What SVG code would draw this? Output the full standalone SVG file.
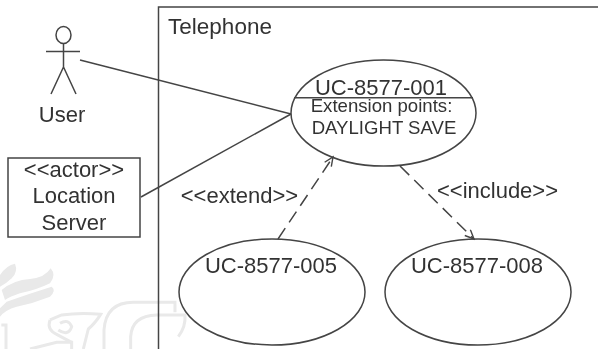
<svg xmlns="http://www.w3.org/2000/svg" width="598" height="349" viewBox="0 0 598 349">
<defs>
<style>
text{font-family:"Liberation Sans",Arial,sans-serif;fill:#333;text-anchor:middle}
.l{font-size:22px}
.s{font-size:18.600px}
.ln{fill:none;stroke:#444;stroke-width:1.5}
.d{stroke-dasharray:13 7}
.wm{fill:none;stroke:#e9e9e9;stroke-width:9}
.wf{fill:#e9e9e9}
</style>
<marker id="arr" markerWidth="12" markerHeight="12" refX="10" refY="5" orient="auto" markerUnits="userSpaceOnUse">
<path d="M1 1L10 5L1 9" fill="none" stroke="#444" stroke-width="1.4"/>
</marker>
<filter id="soft" x="-5%" y="-5%" width="110%" height="110%"><feGaussianBlur stdDeviation="0.4"/></filter>
</defs>
<rect width="598" height="349" fill="#fff"/>
<g filter="url(#soft)">
<g id="watermark" transform="translate(0 255) scale(.3333)">
<path class="wf" d="M0 60Q20 30 45 26Q55 50 35 70Q20 85 0 95Z"/>
<path class="wf" d="M5 105Q40 75 90 72Q135 68 152 40Q170 60 150 85Q110 105 60 115Q30 125 15 135Z"/>
<path class="wf" d="M20 140Q90 115 155 95Q170 105 150 125Q100 145 50 155Q15 165 0 185V160Z"/>
<path class="wm" d="M4 210H18V282"/>
<path class="wm" d="M150 195L185 180Q240 172 302 178Q285 205 265 222L250 282M150 195Q140 225 170 238L215 262M180 205Q205 190 215 215Q205 245 175 225"/>
<path class="wm" d="M90 282L170 262H215V282"/>
<path class="wm" d="M312 282V225Q318 142 400 142H525V172"/>
<path class="wm" d="M392 282V245Q396 182 470 180H555Q558 215 535 245"/>
</g>
<g id="boundary">
<path class="ln" d="M158.500 349V7H598"/>
<text x="220" y="34" font-size="22.500">Telephone</text>
</g>
<g id="connectors">
<path class="ln" d="M80 60L291 114"/>
<path class="ln" d="M141 197L291 114"/>
<path class="ln d" d="M278 239L333 157" marker-end="url(#arr)"/>
<path class="ln d" d="M400 166L474 239" marker-end="url(#arr)"/>
<text x="239.500" y="203" class="l">&lt;&lt;extend&gt;&gt;</text>
<text x="497.500" y="198" class="l">&lt;&lt;include&gt;&gt;</text>
</g>
<g id="user">
<ellipse class="ln" cx="63.500" cy="35" rx="7.500" ry="8.500"/>
<path class="ln" d="M46 51.500H80M63.500 43.500V67M63.500 67L51 94M63.500 67L76 94"/>
<text x="62" y="122" class="l">User</text>
</g>
<g id="location-server">
<rect class="ln" x="8" y="158" width="132" height="79"/>
<text x="74" y="177" class="l">&lt;&lt;actor&gt;&gt;</text>
<text x="74" y="203" class="l">Location</text>
<text x="74" y="230" class="l">Server</text>
</g>
<g id="uc-001">
<ellipse class="ln" cx="383.500" cy="113" rx="92.500" ry="53"/>
<path class="ln" d="M294 97.700H473"/>
<text x="381" y="94.500" class="l">UC-8577-001</text>
<text x="381.500" y="112" class="s">Extension points:</text>
<text x="384" y="134" class="s">DAYLIGHT SAVE</text>
</g>
<g id="uc-005">
<ellipse class="ln" cx="272" cy="292" rx="93" ry="53"/>
<text x="271" y="273" class="l">UC-8577-005</text>
</g>
<g id="uc-008">
<ellipse class="ln" cx="478" cy="292" rx="93" ry="53"/>
<text x="477" y="273" class="l">UC-8577-008</text>
</g>
</g>
</svg>
